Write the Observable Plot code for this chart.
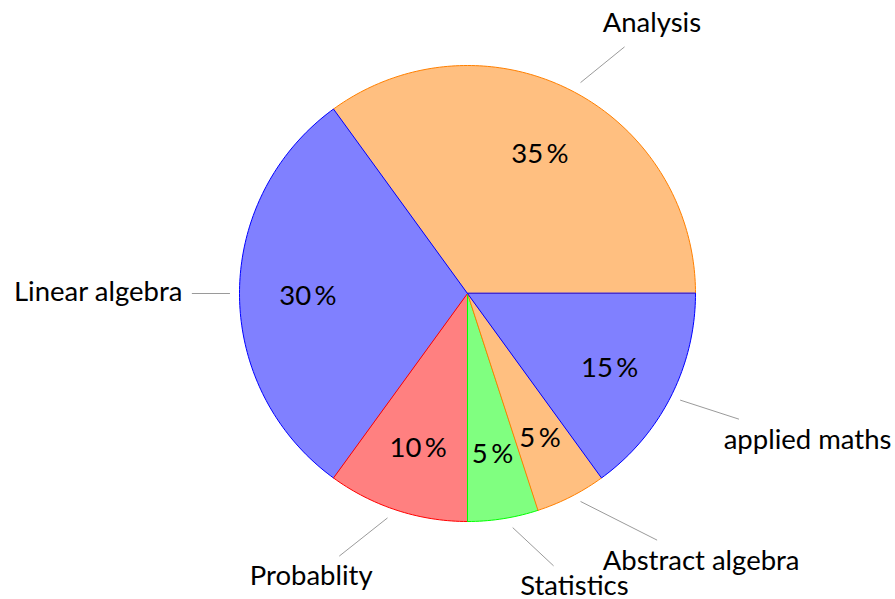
<!DOCTYPE html>
<html><head><meta charset="utf-8">
<script src="https://cdn.jsdelivr.net/npm/d3@7"></script>
<script src="https://cdn.jsdelivr.net/npm/@observablehq/plot@0.6"></script>
<style>html,body{margin:0;padding:0;background:#fff;overflow:hidden} svg{display:block}</style>
</head><body><div id="chart"></div>
<script>
// ---- data ----
const categories = ["Analysis", "Linear algebra", "Probablity", "Statistics", "Abstract algebra", "applied maths"];
const percents = [35, 30, 10, 5, 5, 15];
// ---- style ----
const fillColors = ["#ffbf80", "#8080ff", "#ff8080", "#80ff80", "#ffbf80", "#8080ff"];
const strokeColors = ["#ff8000", "#0000ff", "#ff0000", "#00ff00", "#ff8000", "#0000ff"];

const W = 895, H = 599, CX = 467, CY = 293, R = 228;
const FONT = "Lato", FS = 27.5;
const F = 28.6;              // TeX font size used for node geometry
const IS = F / 3;            // inner sep
const PIN = 3 * 0.444 * F;   // pin distance (3ex)

const ctx = document.createElement("canvas").getContext("2d");
ctx.font = `${FS}px ${FONT}`;
const rad = d => d * Math.PI / 180;

const slicePts = [];
const pctLabels = [];
const outer = [];
const links = [];
let acc = 0;
categories.forEach((cat, i) => {
  const a0 = acc * 3.6, a1 = (acc + percents[i]) * 3.6;
  acc += percents[i];
  slicePts.push({cat, x: 0, y: 0, fill: fillColors[i], stroke: strokeColors[i]});
  const n = Math.max(2, Math.ceil(a1 - a0));
  for (let k = 0; k <= n; k++) {
    const a = rad(a0 + (a1 - a0) * k / n);
    slicePts.push({cat, x: Math.cos(a), y: Math.sin(a), fill: fillColors[i], stroke: strokeColors[i]});
  }
  const m = rad((a0 + a1) / 2);
  const c = Math.cos(m), s = Math.sin(m);
  pctLabels.push({x: 0.7 * c, y: 0.7 * s, text: `${percents[i]}\u2009%`});

  // pin label geometry (px, y up, relative to centre)
  const Mx = R * c, My = R * s;
  const bm = IS / Math.max(Math.abs(c), Math.abs(s));
  const Ax = Mx + (bm + PIN) * c, Ay = My + (bm + PIN) * s;
  const tw = ctx.measureText(cat).width;
  const desc = /[gpqyj]/.test(cat) ? 0.194 * F : 0;
  const w = tw + 2 * IS, hb = 0.694 * F + desc + 2 * IS;
  const eps = 1e-6;
  const hx = c > eps ? "left" : c < -eps ? "right" : "center";
  const vy = s > eps ? "bottom" : s < -eps ? "top" : "middle";
  const L = hx === "left" ? Ax : hx === "right" ? Ax - w : Ax - w / 2;
  const B = vy === "bottom" ? Ay : vy === "top" ? Ay - hb : Ay - hb / 2;
  const anchor = hx === "left" ? "start" : hx === "right" ? "end" : "middle";
  const tx = hx === "left" ? L + IS : hx === "right" ? L + w - IS : L + w / 2;
  const ty = B + IS + desc;
  outer.push({x: tx / R, y: ty / R, text: cat, anchor});
  const Cx = L + w / 2, Cy = B + hb / 2;
  let dx = Cx - Mx, dy = Cy - My;
  const len = Math.hypot(dx, dy); dx /= len; dy /= len;
  const t0 = IS / Math.max(Math.abs(dx), Math.abs(dy));
  const t1 = Math.min(Math.abs(dx) > eps ? (w / 2) / Math.abs(dx) : Infinity,
                      Math.abs(dy) > eps ? (hb / 2) / Math.abs(dy) : Infinity);
  links.push({x1: (Mx + dx * t0) / R, y1: (My + dy * t0) / R, x2: (Cx - dx * t1) / R, y2: (Cy - dy * t1) / R});
});

const textMark = (anchor) => Plot.text(outer.filter(d => d.anchor === anchor), {
  x: "x", y: "y", text: "text", textAnchor: anchor, lineAnchor: "bottom",
  fontSize: FS, fontFamily: FONT, fill: "#000"
});

const chart = Plot.plot({
  width: W, height: H, margin: 0,
  style: {background: "#fff", overflow: "visible"},
  x: {domain: [-CX / R, (W - CX) / R], axis: null},
  y: {domain: [-(H - CY) / R, CY / R], axis: null},
  color: {type: "identity"},
  marks: [
    Plot.line(slicePts, {x: "x", y: "y", z: "cat", fill: "fill", stroke: "stroke", strokeWidth: 1, curve: "linear-closed", strokeLinejoin: "miter"}),
    Plot.text(pctLabels, {x: "x", y: "y", text: "text", textAnchor: "middle", lineAnchor: "bottom", dy: 11.5, fontSize: FS, fontFamily: FONT, fill: "#000"}),
    Plot.link(links, {x1: "x1", y1: "y1", x2: "x2", y2: "y2", stroke: "#808080", strokeWidth: 0.8}),
    textMark("start"), textMark("end"), textMark("middle")
  ]
});
document.getElementById("chart").appendChild(chart);
</script>
</body></html>
